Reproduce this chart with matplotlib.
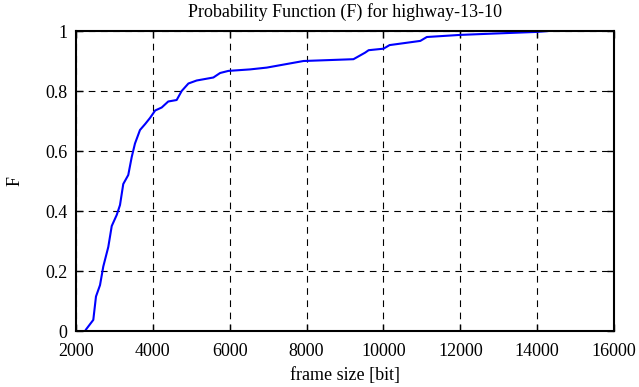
import matplotlib
matplotlib.use('Agg')
import matplotlib.pyplot as plt

frame_size = [2260, 2450, 2520, 2625, 2710, 2840, 2930, 3060, 3145, 3230, 3360, 3450,
              3535, 3665, 3800, 3925, 4060, 4230, 4400, 4620, 4750, 4925, 5140, 5575,
              5750, 5965, 6530, 6965, 7920, 9220, 9525, 9615, 10000, 10160, 10960,
              11130, 12000, 12780, 14000, 14300]
prob = [0.005, 0.037, 0.115, 0.153, 0.215, 0.28, 0.35, 0.387, 0.42, 0.49, 0.52, 0.58,
        0.625, 0.67, 0.69, 0.71, 0.735, 0.745, 0.765, 0.77, 0.80, 0.825, 0.835, 0.845,
        0.86, 0.867, 0.872, 0.878, 0.90, 0.906, 0.928, 0.936, 0.941, 0.953, 0.967,
        0.98, 0.987, 0.991, 0.997, 1.0]

x_ticks = [2000, 4000, 6000, 8000, 10000, 12000, 14000, 16000]
y_ticks = [0, 0.2, 0.4, 0.6, 0.8, 1]
y_labels = ['0', '0.2', '0.4', '0.6', '0.8', '1']

plt.rcParams['font.family'] = ['Liberation Serif', 'DejaVu Serif']
plt.rcParams['font.size'] = 13

fig = plt.figure(figsize=(6.39, 3.87), dpi=100)
ax = fig.add_axes([76 / 639, 1 - 331 / 387, 538 / 639, 300 / 387])

ax.plot(frame_size, prob, color='#0000ff', linewidth=1.5)

ax.set_xlim(2000, 16000)
ax.set_ylim(0, 1)
ax.set_xticks(x_ticks)
ax.set_yticks(y_ticks)
ax.set_yticklabels(y_labels)
ax.grid(True, color='black', linestyle=(0, (6, 5)), linewidth=0.8)
ax.tick_params(direction='in', top=True, right=True, length=5, width=1)
ax.tick_params(axis='x', pad=9)
ax.tick_params(axis='y', pad=6)
for s in ax.spines.values():
    s.set_linewidth(1.5)

ax.set_title('Probability Function (F) for highway-13-10', fontsize=13, pad=10)
ax.set_xlabel('frame size [bit]', labelpad=5)
ax.set_ylabel('F', labelpad=16)

fig.savefig('out.png', dpi=100)
